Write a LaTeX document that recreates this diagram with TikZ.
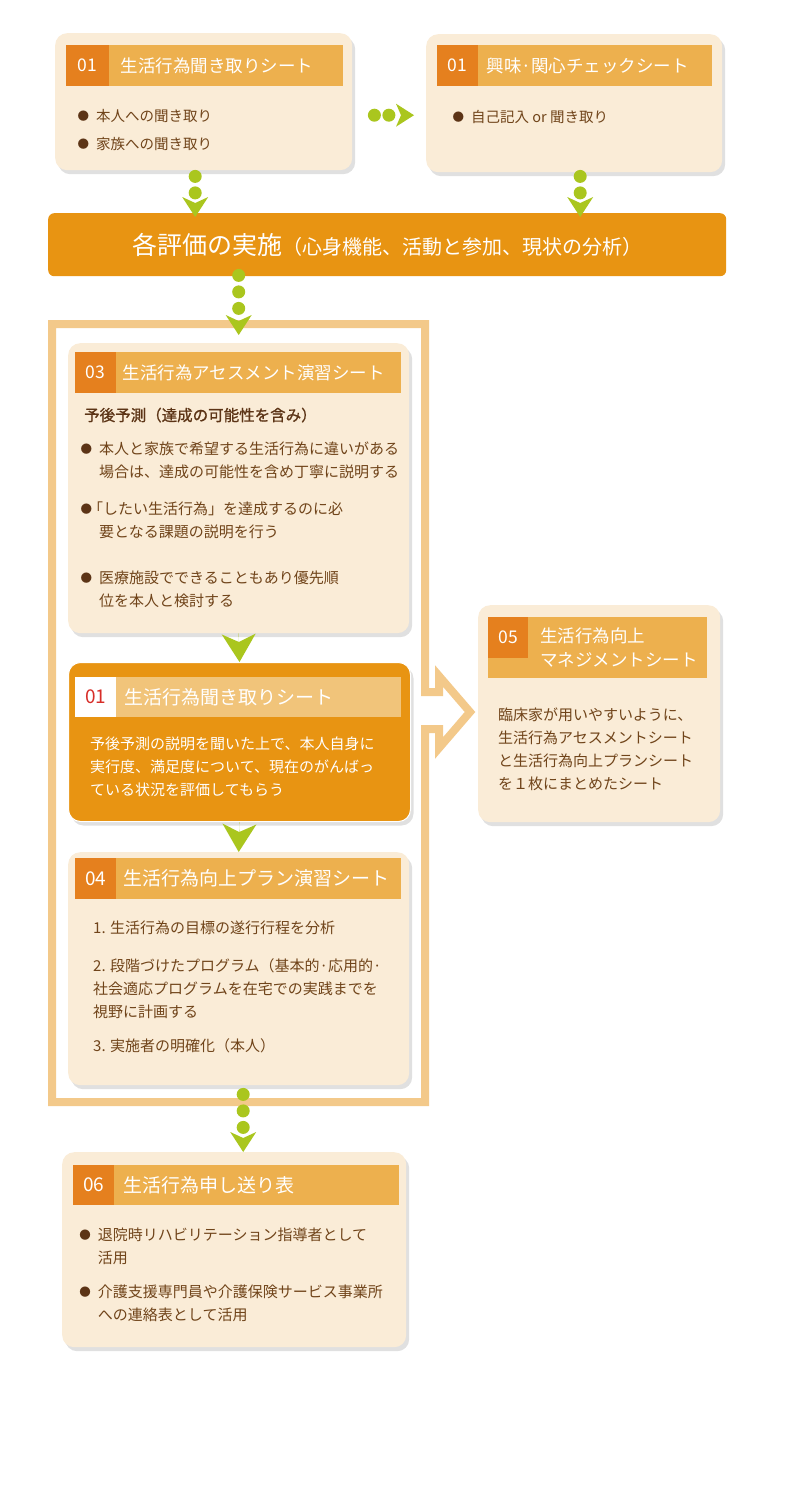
\documentclass[tikz,border=0pt]{standalone}
\usepackage{fontspec}
\setmainfont{Noto Sans CJK JP}
\newfontfamily\subfont{Noto Sans CJK JP}[FakeBold=1]
\usepackage{tikz}
\usetikzlibrary{arrows.meta, positioning, shadows, calc}

\definecolor{cream}{RGB}{250,236,215}
\definecolor{barorange}{RGB}{237,176,78}
\definecolor{cellorange}{RGB}{229,128,30}
\definecolor{deeporange}{RGB}{232,148,18}
\definecolor{paleorange}{RGB}{241,196,122}
\definecolor{framecol}{RGB}{243,201,138}
\definecolor{flowgreen}{RGB}{170,198,30}
\definecolor{bodybrown}{RGB}{112,68,26}
\definecolor{darkbrown}{RGB}{92,52,22}
\definecolor{rednum}{RGB}{215,45,40}

\newcommand{\bulletmark}{\hspace*{1.5pt}\raisebox{1.3pt}{\fontsize{11.5pt}{0pt}\selectfont\textcolor{darkbrown}{●}}}
\newcommand{\dotitem}{\makebox[20pt][l]{\bulletmark}}
\newcommand{\hang}{\hspace*{20pt}}

\tikzset{
  card/.style={rounded corners=12pt, fill=cream, inner sep=0pt, anchor=north west,
    drop shadow={shadow xshift=3pt, shadow yshift=-4pt, fill=black, opacity=0.12}},
  headbar/.style={fill=barorange, inner sep=0pt, anchor=north west, minimum height=41pt},
  numcell/.style={fill=cellorange, inner sep=0pt, minimum width=42pt, minimum height=41pt,
    anchor=north west, text=white, font=\fontsize{17.5pt}{20pt}\selectfont},
  headtitle/.style={text=white, inner sep=0pt, anchor=west, align=left,
    font=\fontsize{17.5pt}{24pt}\selectfont},
  bigtitle/.style={font=\fontsize{19pt}{24pt}\selectfont},
  bodytext/.style={text=bodybrown, inner sep=0pt, anchor=north west, align=left,
    font=\fontsize{15pt}{23pt}\selectfont},
  flowdots/.style={draw=flowgreen, line width=13pt, line cap=round, dash pattern=on 0pt off 16.5pt,
    -{Stealth[length=20pt, width=26pt, inset=6pt, line width=0pt]}},
  chevron/.style={draw=flowgreen, line width=0.1pt,
    -{Stealth[length=28pt, width=34pt, inset=8pt, line width=0pt]}},
}

\begin{document}
\begin{tikzpicture}[x=1pt, y=1pt]
  \fill[white] (0,0) rectangle (800,-1500);
  \useasboundingbox (0,0) rectangle (800,-1500);

  % top row
  \node[card, minimum width=297pt, minimum height=137pt] (hear) at (55,-33) {};
  \node[headbar, minimum width=277pt] (hearbar) at ([shift={(11,-12)}]hear.north west) {};
  \node[numcell, minimum width=43pt] (hearno) at (hearbar.north west) {01};
  \node[headtitle, right=11pt of hearno] (heartitle) {生活行為聞き取りシート};
  \node[bodytext, font=\fontsize{14.5pt}{28pt}\selectfont] (hearlist) at ([shift={(21,-76)}]hear.north west)
    {\dotitem 本人への聞き取り\\ \dotitem 家族への聞き取り};

  \node[card, minimum width=296pt, minimum height=138pt] (interest) at (426,-34) {};
  \node[headbar, minimum width=275pt] (interestbar) at ([shift={(11,-11)}]interest.north west) {};
  \node[numcell, minimum width=41pt] (interestno) at (interestbar.north west) {01};
  \node[headtitle, right=8pt of interestno] (interesttitle) {興味·関心チェックシート};
  \node[bodytext, font=\fontsize{14.5pt}{28pt}\selectfont] (interestlist) at ([shift={(25,-76)}]interest.north west)
    {\dotitem 自己記入 or 聞き取り};

  \draw[flowdots, dash pattern=on 0pt off 14.5pt, -{Stealth[length=18pt, width=23pt, inset=5pt, line width=0pt]}]
    ([xshift=22pt, yshift=-13.5pt]hear.east) -- ([xshift=-12pt, yshift=-12pt]interest.west);

  % banner
  \node[fill=deeporange, rounded corners=6pt, minimum width=678pt, minimum height=63pt, anchor=north west,
    inner sep=0pt, text=white] (evalall) at (48,-213)
    {{\fontsize{25pt}{28pt}\selectfont 各評価の実施}{\fontsize{20pt}{24pt}\selectfont （心身機能、活動と参加、現状の分析）}};

  \draw[flowdots] ([xshift=-8.5pt, yshift=-6pt]hear.south) -- ([xshift=-8.5pt, yshift=-4pt]hear.south |- evalall.north);
  \draw[flowdots] ([xshift=6pt, yshift=-4pt]interest.south) -- ([xshift=6pt, yshift=-4pt]interest.south |- evalall.north);

  % frame with the open arrow to 05
  \draw[framecol, line width=8pt, line join=miter]
    (52,-324) -- (425,-324) -- (425,-692) -- (439,-692) -- (439,-676) -- (470,-712)
    -- (439,-748) -- (439,-729) -- (425,-729) -- (425,-1102) -- (52,-1102) -- cycle;

  % 03
  \node[card, minimum width=341pt, minimum height=290pt] (assess) at (68,-343) {};
  \node[headbar, minimum width=326pt] (assessbar) at ([shift={(7,-9)}]assess.north west) {};
  \node[numcell, minimum width=41pt] (assessno) at (assessbar.north west) {03};
  \node[headtitle, right=6pt of assessno] (assesstitle) {生活行為アセスメント演習シート};
  \node[bodytext, font=\subfont\fontsize{15.5pt}{20pt}\selectfont, text=darkbrown] (assesssub)
    at ([shift={(16,-64.5)}]assess.north west) {予後予測（達成の可能性を含み）};
  \node[bodytext] (assesslist) at ([shift={(11,-98.5)}]assess.north west)
    {\dotitem 本人と家族で希望する生活行為に違いがある\\
     \hang 場合は、達成の可能性を含め丁寧に説明する\\[14pt]
     \makebox[9pt][l]{\bulletmark}「したい生活行為」を達成するのに必\\
     \hang 要となる課題の説明を行う\\[23pt]
     \dotitem 医療施設でできることもあり優先順\\
     \hang 位を本人と検討する};

  % 01 (orange)
  \node[card, fill=deeporange, draw=white, line width=1pt, minimum width=342pt, minimum height=159pt] (hear2) at (68,-662) {};
  \node[headbar, fill=paleorange, minimum width=326pt, minimum height=40pt] (hear2bar) at ([shift={(7,-15)}]hear2.north west) {};
  \node[numcell, fill=white, text=rednum, minimum width=41pt, minimum height=40pt, bigtitle] (hear2no) at (hear2bar.north west) {01};
  \node[headtitle, bigtitle, right=8pt of hear2no] (hear2title) {生活行為聞き取りシート};
  \node[bodytext, text=white] (hear2text) at ([shift={(22,-74.5)}]hear2.north west)
    {予後予測の説明を聞いた上で、本人自身に\\
     実行度、満足度について、現在のがんばっ\\
     ている状況を評価してもらう};

  \draw[chevron] (assess.south) -- (hear2.north);

  % 04
  \node[card, minimum width=341pt, minimum height=233pt] (plan) at (68,-852) {};
  \node[headbar, minimum width=326pt] (planbar) at ([shift={(7,-6)}]plan.north west) {};
  \node[numcell, minimum width=41pt, bigtitle] (planno) at (planbar.north west) {04};
  \node[headtitle, bigtitle, right=7pt of planno] (plantitle) {生活行為向上プラン演習シート};
  \node[bodytext] (planlist) at ([shift={(25,-68.5)}]plan.north west)
    {1. 生活行為の目標の遂行行程を分析\\[15pt]
     2. 段階づけたプログラム（基本的·応用的·\\
     社会適応プログラムを在宅での実践までを\\
     視野に計画する\\[11pt]
     3. 実施者の明確化（本人）};

  \draw[chevron] (hear2.south) -- (plan.north);

  % 05
  \node[card, minimum width=242pt, minimum height=217pt] (manage) at (478,-605) {};
  \node[headbar, minimum width=219pt, minimum height=61pt] (managebar) at ([shift={(10,-12)}]manage.north west) {};
  \node[numcell, minimum width=40pt] (manageno) at (managebar.north west) {05};
  \node[headtitle] (managetitle) at ([xshift=52pt]managebar.west) {生活行為向上\\マネジメントシート};
  \node[bodytext] (managetext) at ([shift={(20,-102.5)}]manage.north west)
    {臨床家が用いやすいように、\\
     生活行為アセスメントシート\\
     と生活行為向上プランシート\\
     を１枚にまとめたシート};

  % 06
  \node[card, minimum width=344pt, minimum height=195pt] (handover) at (62,-1152) {};
  \node[headbar, minimum width=326pt, minimum height=40pt] (handoverbar) at ([shift={(11,-13)}]handover.north west) {};
  \node[numcell, minimum width=41pt, minimum height=40pt, bigtitle] (handoverno) at (handoverbar.north west) {06};
  \node[headtitle, bigtitle, right=9pt of handoverno] (handovertitle) {生活行為申し送り表};
  \node[bodytext] (handoverlist) at ([shift={(15.75,-75.5)}]handover.north west)
    {\dotitem 退院時リハビリテーション指導者として\\
     \hang 活用\\[11pt]
     \dotitem 介護支援専門員や介護保険サービス事業所\\
     \hang への連絡表として活用};

  \draw[flowdots] ([yshift=1pt]assess.north |- evalall.south) -- ([yshift=8pt]assess.north);
  \draw[flowdots] ([xshift=4.5pt, yshift=-9pt]plan.south) -- ([xshift=9pt]handover.north);
\end{tikzpicture}
\end{document}
